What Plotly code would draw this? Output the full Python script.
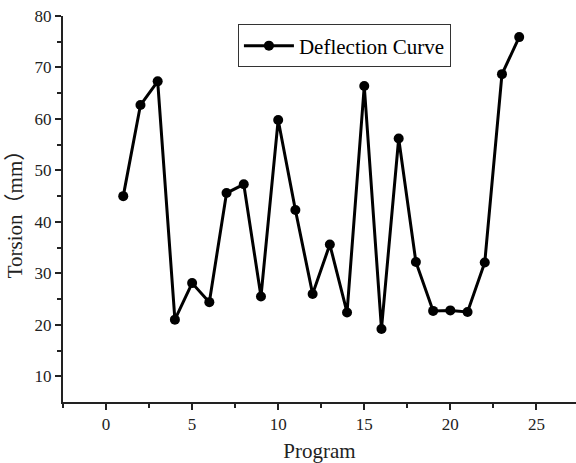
import plotly.graph_objects as go

program = list(range(1, 25))
torsion = [45.0, 62.7, 67.3, 21.0, 28.1, 24.4, 45.6, 47.3, 25.5, 59.8, 42.3, 26.0,
           35.6, 22.4, 66.4, 19.2, 56.2, 32.2, 22.7, 22.8, 22.5, 32.1, 68.7, 75.9]
x_ticks = [0, 5, 10, 15, 20, 25]
y_ticks = [10, 20, 30, 40, 50, 60, 70, 80]

FONT = "Liberation Serif, Noto Sans CJK SC, serif"

fig = go.Figure()
fig.add_trace(go.Scatter(
    x=program, y=torsion, mode="lines+markers", name="Deflection Curve",
    line=dict(color="black", width=3),
    marker=dict(color="black", size=10),
))

fig.update_layout(
    width=576, height=463,
    margin=dict(l=63, r=0, t=16, b=61),
    paper_bgcolor="white", plot_bgcolor="white",
    font=dict(family=FONT, color="#222", size=17),
    showlegend=True,
    legend=dict(
        x=0.341, y=0.978, xanchor="left", yanchor="top",
        bordercolor="#333", borderwidth=1, bgcolor="white",
        font=dict(family=FONT, size=21, color="black"),
        itemwidth=50, tracegroupgap=0,
    ),
    xaxis=dict(
        range=[-2.5, 27.3], tickvals=x_ticks, showgrid=False, zeroline=False,
        showline=True, linecolor="#222", linewidth=2,
        ticks="outside", ticklen=6, tickwidth=1.5, tickcolor="#222",
        minor=dict(tickvals=[-2.5, 2.5, 7.5, 12.5, 17.5, 22.5], ticks="outside",
                   ticklen=4, tickwidth=1.5, tickcolor="#222"),
        title=dict(text="Program", font=dict(family=FONT, size=21, color="#222"), standoff=10),
        tickfont=dict(family=FONT, size=17, color="#222"),
    ),
    yaxis=dict(
        range=[5, 80], tickvals=y_ticks, showgrid=False, zeroline=False,
        showline=True, linecolor="#222", linewidth=2,
        ticks="outside", ticklen=6, tickwidth=1.5, tickcolor="#222",
        minor=dict(tickvals=[15, 25, 35, 45, 55, 65, 75], ticks="outside",
                   ticklen=4, tickwidth=1.5, tickcolor="#222"),
        title=dict(text="Torsion（mm）", font=dict(family=FONT, size=21, color="#222"), standoff=6),
        tickfont=dict(family=FONT, size=17, color="#222"),
    ),
)

fig.write_html("out.html")
